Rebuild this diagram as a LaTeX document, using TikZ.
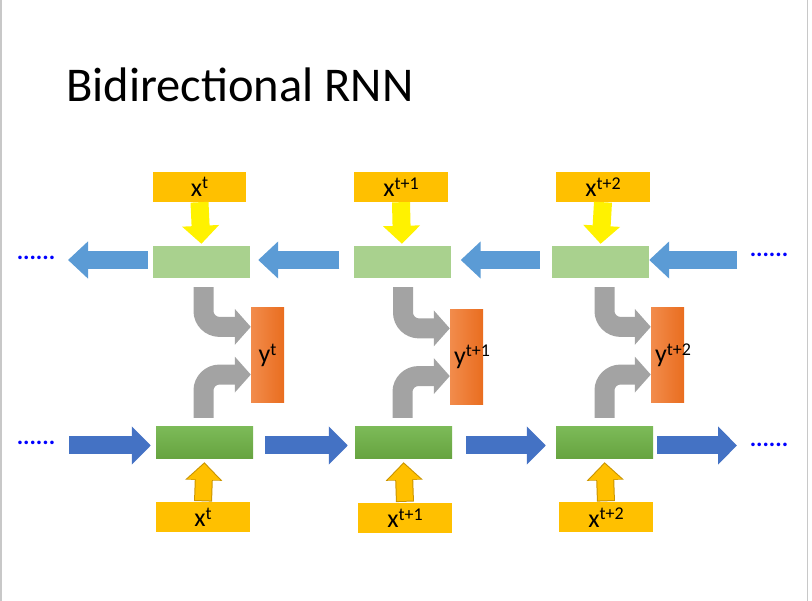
\documentclass[tikz,border=0pt]{standalone}
\usepackage{fontspec}
\setmainfont{Carlito}
\usetikzlibrary{arrows.meta,calc}
\definecolor{xorange}{HTML}{FFC000}
\definecolor{xorangedk}{HTML}{C99400}
\definecolor{lgreen}{HTML}{A9D18E}
\definecolor{dgreen}{HTML}{70AD47}
\definecolor{dgreentop}{HTML}{7CBA58}
\definecolor{dgreenbot}{HTML}{66A33F}
\definecolor{lblue}{HTML}{5B9BD5}
\definecolor{dblue}{HTML}{4472C4}
\definecolor{yorangeL}{HTML}{F28C4C}
\definecolor{yorangeR}{HTML}{E96D1F}
\definecolor{garrow}{HTML}{A3A3A3}
\definecolor{dotblue}{HTML}{0000FF}
\definecolor{frame}{HTML}{C8C8C8}
\newcommand{\supx}[1]{\raisebox{7.5pt}{\fontsize{18}{18}\selectfont #1}}
\begin{document}
\begin{tikzpicture}[x=1pt,y=-1pt,
  xbox/.style={fill=xorange, minimum height=30pt, inner sep=0pt, font=\fontsize{26}{28}\selectfont},
  lgbox/.style={fill=lgreen, minimum width=97pt, minimum height=32pt, inner sep=0pt},
  dgbox/.style={top color=dgreentop, bottom color=dgreenbot, minimum width=97pt, minimum height=32pt, inner sep=0pt},
  ybox/.style={left color=yorangeL, right color=yorangeR, minimum width=33pt, minimum height=95pt, inner sep=0pt},
  ylab/.style={inner sep=0pt, font=\fontsize{26}{28}\selectfont},
  dots/.style={text=dotblue, font=\bfseries\fontsize{24}{26}\selectfont, inner sep=0pt},
  toparrow/.style={draw=lblue, line width=18pt, -{Triangle[length=20pt,width=36pt]}},
  botarrow/.style={draw=dblue, line width=18pt, -{Triangle[length=19pt,width=37pt]}},
  yelarrow/.style={draw=yellow, line width=18pt, -{Triangle[length=18pt,width=36pt]}},
  uparrowout/.style={draw=xorangedk, line width=18pt, -{Triangle[length=18pt,width=36pt]}},
  uparrowin/.style={draw=xorange, line width=16pt, -{Triangle[length=16pt,width=32pt]}},
  grayarrow/.style={draw=garrow, line width=20pt, rounded corners=16pt, -{Triangle[length=16pt,width=35pt]}}
]
\useasboundingbox (0,0) rectangle (812,601);
\draw[frame, line width=1.5pt] (1,0) -- (1,601);
\draw[frame, line width=1.5pt] (807.5,0) -- (807.5,601);

\node[anchor=base west, inner sep=0pt, font=\fontsize{48.5}{52}\selectfont] (title) at (66,102) {Bidirectional RNN};

% top input boxes
\node[xbox, minimum width=93pt] (xt1) at (199.5,187) {x\supx{t}};
\node[xbox, minimum width=94pt] (xt2) at (401,187) {x\supx{t+1}};
\node[xbox, minimum width=94pt] (xt3) at (603,187) {x\supx{t+2}};

% backward states
\node[lgbox] (lg1) at (201.5,262) {};
\node[lgbox] (lg2) at (402,262) {};
\node[lgbox] (lg3) at (600.5,262) {};

% forward states
\node[dgbox] (dg1) at (204.5,443) {};
\node[dgbox] (dg2) at (403.5,443) {};
\node[dgbox] (dg3) at (604.5,443) {};

% outputs
\node[ybox] (y1) at (267.5,355.5) {};
\node[ybox] (y2) at (466.5,357) {};
\node[ybox] (y3) at (667.5,355.5) {};
\node[ylab] (yl1) at (y1.center) {y\supx{t}};
\node[ylab, anchor=west] (yl2) at ([xshift=4pt]y2.west) {y\supx{t+1}};
\node[ylab, anchor=west] (yl3) at ([xshift=4pt]y3.west) {y\supx{t+2}};

% bottom input boxes
\node[xbox, minimum width=94pt] (xb1) at (203,517.5) {x\supx{t}};
\node[xbox, minimum width=94pt] (xb2) at (405,518) {x\supx{t+1}};
\node[xbox, minimum width=94pt] (xb3) at (606,517.5) {x\supx{t+2}};

% dots
\node[dots] (dtl) at (36,258) {......};
\node[dots] (dtr) at (769,255) {......};
\node[dots] (dbl) at (36,443) {......};
\node[dots] (dbr) at (769,445) {......};

\coordinate (tl) at (68,260);
\coordinate (tr) at (737,260);
\coordinate (bl) at (69,445.5);
\coordinate (br) at (737,445.5);

% top (backward) arrows
\draw[toparrow] (tr) -- (lg3.east |- tr);
\draw[toparrow, shorten <=12pt, shorten >=10pt] (lg3.west |- tr) -- (lg2.east |- tr);
\draw[toparrow, shorten <=14pt, shorten >=8pt] (lg2.west |- tr) -- (lg1.east |- tr);
\draw[toparrow, shorten <=5pt] (lg1.west |- tl) -- (tl);

% bottom (forward) arrows
\draw[botarrow] (bl) -- ([xshift=-5pt]dg1.west |- bl);
\draw[botarrow, shorten <=12pt, shorten >=7pt] (dg1.east |- bl) -- (dg2.west |- bl);
\draw[botarrow, shorten <=14pt, shorten >=10pt] (dg2.east |- bl) -- (dg3.west |- bl);
\draw[botarrow, shorten <=4pt] (dg3.east |- br) -- (br);

% yellow input arrows
\foreach \i in {1,2,3}{
  \draw[yelarrow, shorten >=2pt] (xt\i.south) -- (lg\i.north);
}
% orange input arrows
\foreach \i in {1,2,3}{
  \draw[uparrowout, shorten >=3pt, shorten <=1pt] (xb\i.north) -- (dg\i.south);
  \draw[uparrowin, shorten >=4.5pt, shorten <=2pt] (xb\i.north) -- (dg\i.south);
}

% gray bent arrows
\draw[grayarrow, shorten <=9pt] ([xshift=2pt]lg1.south) |- ($(y1.north west)!0.2!(y1.south west)$);
\draw[grayarrow, shorten <=9pt] ([xshift=-1pt]dg1.north) |- ($(y1.north west)!0.7!(y1.south west)$);
\draw[grayarrow, shorten <=9pt] ([xshift=1pt]lg2.south) |- ($(y2.north west)!0.2!(y2.south west)$);
\draw[grayarrow, shorten <=9pt] ([xshift=-1pt]dg2.north) |- ($(y2.north west)!0.7!(y2.south west)$);
\draw[grayarrow, shorten <=9pt] ([xshift=4pt]lg3.south) |- ($(y3.north west)!0.2!(y3.south west)$);
\draw[grayarrow, shorten <=9pt] ([xshift=0pt]dg3.north) |- ($(y3.north west)!0.7!(y3.south west)$);
\end{tikzpicture}
\end{document}
